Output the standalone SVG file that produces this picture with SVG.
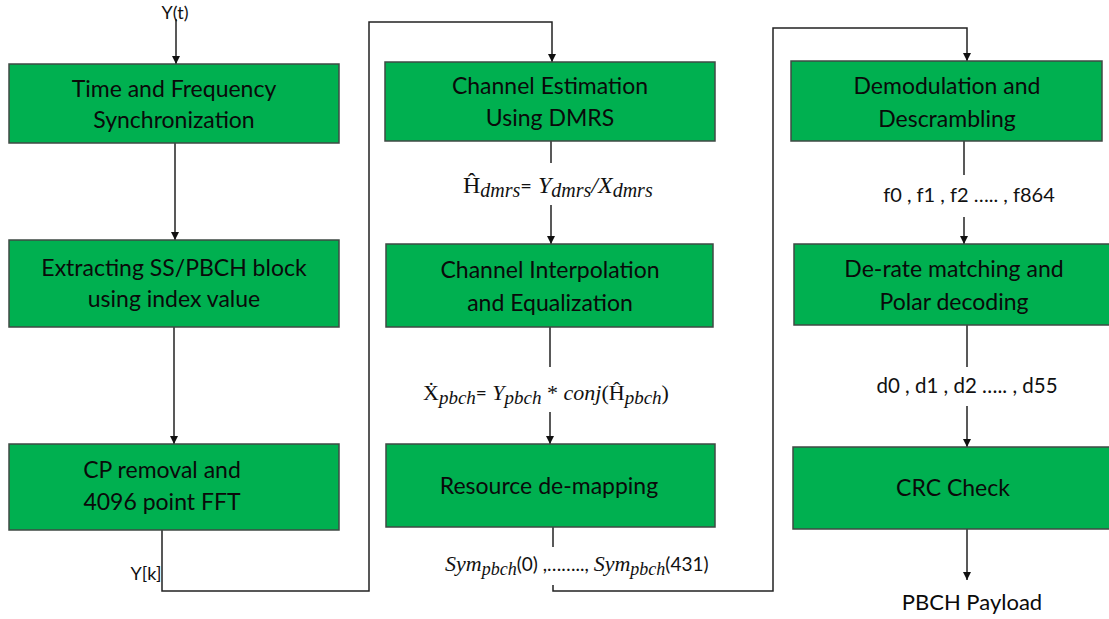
<svg xmlns="http://www.w3.org/2000/svg" width="1109" height="619" viewBox="0 0 1109 619">
<style>
.box{fill:#00B050;stroke:#3f4a44;stroke-width:1.5}
.t{font-family:Lato,"Liberation Sans",sans-serif;font-size:23px;fill:#0a0a0a;text-anchor:middle}
.l{font-family:Lato,"Liberation Sans",sans-serif;font-size:20px;fill:#111;text-anchor:middle}
.m{font-family:"Liberation Serif",serif;font-size:22px;fill:#111}
.s{font-family:Lato,"Liberation Sans",sans-serif;font-style:normal}
.c{fill:none;stroke:#222;stroke-width:1.5}
</style>
<defs>
<marker id="a" markerWidth="10" markerHeight="10" refX="8" refY="4" orient="auto" markerUnits="userSpaceOnUse">
<path d="M0,0 L8,4 L0,8 Z" fill="#111"/>
</marker>
</defs>
<rect width="1109" height="619" fill="#fff"/>
<g id="connectors">
<line class="c" x1="176" y1="19" x2="176" y2="64" marker-end="url(#a)"/>
<line class="c" x1="175" y1="143" x2="175" y2="240" marker-end="url(#a)"/>
<line class="c" x1="174" y1="327" x2="174" y2="444" marker-end="url(#a)"/>
<polyline class="c" points="162,530 162,591 369,591 369,22 552,22 552,62" marker-end="url(#a)"/>
<line class="c" x1="551" y1="141" x2="551" y2="163"/>
<line class="c" x1="551" y1="205" x2="551" y2="244" marker-end="url(#a)"/>
<line class="c" x1="550" y1="327" x2="550" y2="367"/>
<line class="c" x1="550" y1="412" x2="550" y2="444" marker-end="url(#a)"/>
<line class="c" x1="553" y1="527" x2="553" y2="547"/>
<polyline class="c" points="553,585 553,591 773,591 773,28 967,28 967,61" marker-end="url(#a)"/>
<line class="c" x1="964" y1="141" x2="964" y2="175"/>
<line class="c" x1="964" y1="217" x2="964" y2="244" marker-end="url(#a)"/>
<line class="c" x1="967" y1="325" x2="967" y2="367"/>
<line class="c" x1="967" y1="406" x2="967" y2="447" marker-end="url(#a)"/>
<line class="c" x1="967" y1="529" x2="967" y2="580" marker-end="url(#a)"/>
</g>
<g id="n1"><rect class="box" x="9" y="64" width="330" height="79"/><text class="t" x="174" y="97">Time and Frequency</text><text class="t" x="174" y="128">Synchronization</text></g>
<g id="n2"><rect class="box" x="9" y="240" width="330" height="87"/><text class="t" x="174" y="276">Extracting SS/PBCH block</text><text class="t" x="174" y="307">using index value</text></g>
<g id="n3"><rect class="box" x="9" y="444" width="330" height="86"/><text class="t" x="162" y="478">CP removal and</text><text class="t" x="162" y="510">4096 point FFT</text></g>
<g id="n4"><rect class="box" x="385" y="62" width="330" height="79"/><text class="t" x="550" y="94">Channel Estimation</text><text class="t" x="550" y="126">Using DMRS</text></g>
<g id="n5"><rect class="box" x="386" y="244" width="327" height="83"/><text class="t" x="550" y="278">Channel Interpolation</text><text class="t" x="550" y="311">and Equalization</text></g>
<g id="n6"><rect class="box" x="386" y="444" width="329" height="83"/><text class="t" x="549" y="494">Resource de-mapping</text></g>
<g id="n7"><rect class="box" x="791" y="61" width="311" height="80"/><text class="t" x="947" y="94">Demodulation and</text><text class="t" x="947" y="127">Descrambling</text></g>
<g id="n8"><rect class="box" x="794" y="244" width="320" height="81"/><text class="t" x="954" y="277">De-rate matching and</text><text class="t" x="954" y="310">Polar decoding</text></g>
<g id="n9"><rect class="box" x="793" y="447" width="321" height="82"/><text class="t" x="953" y="496">CRC Check</text></g>
<g id="labels">
<text class="l" x="175" y="19" style="font-size:18px">Y(t)</text>
<text class="l" x="146" y="580" style="font-size:18px">Y[k]</text>
<text class="m" x="463" y="193" style="font-size:24px">Ĥ<tspan font-style="italic" font-size="20" dy="4">dmrs</tspan><tspan class="s" font-size="20" dy="-4">=</tspan><tspan font-style="italic"> Y</tspan><tspan font-style="italic" font-size="20" dy="4">dmrs</tspan><tspan font-style="italic" dy="-4">/X</tspan><tspan font-style="italic" font-size="20" dy="4">dmrs</tspan></text>
<text class="m" x="423" y="400">Ẋ<tspan font-style="italic" font-size="19" dy="4">pbch</tspan><tspan class="s" font-size="19" dy="-4">=</tspan><tspan font-style="italic"> Y</tspan><tspan font-style="italic" font-size="19" dy="4">pbch</tspan><tspan dy="-4"> * </tspan><tspan font-style="italic">conj</tspan><tspan>(Ĥ</tspan><tspan font-style="italic" font-size="19" dy="4">pbch</tspan><tspan dy="-4">)</tspan></text>
<text class="m" x="445" y="571"><tspan font-style="italic">Sym</tspan><tspan font-style="italic" font-size="18" dy="4">pbch</tspan><tspan class="s" font-size="19" dy="-4">(0) ,…….., </tspan><tspan font-style="italic">Sym</tspan><tspan font-style="italic" font-size="18" dy="4">pbch</tspan><tspan class="s" font-size="19" dy="-4">(431)</tspan></text>
<text class="l" x="969" y="202">f0 , f1 , f2 ….. , f864</text>
<text class="l" x="967" y="393" style="font-size:20.5px">d0 , d1 , d2 ….. , d55</text>
<text class="t" x="972" y="610" style="font-size:22px">PBCH Payload</text>
</g>
</svg>
